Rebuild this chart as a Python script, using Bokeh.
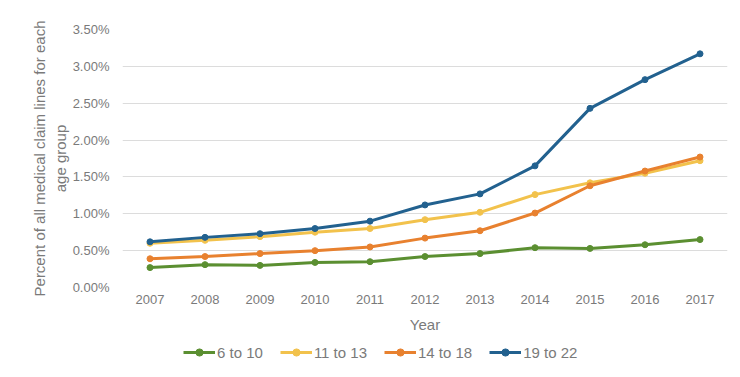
from bokeh.plotting import figure
from bokeh.layouts import column
from bokeh.models import ColumnDataSource, Legend, LegendItem, PrintfTickFormatter, FixedTicker, Range1d
from bokeh.embed import file_html
from bokeh.resources import INLINE

years = ["2007", "2008", "2009", "2010", "2011", "2012", "2013", "2014", "2015", "2016", "2017"]
s_6_10 = [0.27, 0.31, 0.30, 0.34, 0.35, 0.42, 0.46, 0.54, 0.53, 0.58, 0.65]
s_11_13 = [0.60, 0.64, 0.69, 0.75, 0.80, 0.92, 1.02, 1.26, 1.42, 1.55, 1.72]
s_14_18 = [0.39, 0.42, 0.46, 0.50, 0.55, 0.67, 0.77, 1.01, 1.38, 1.58, 1.77]
s_19_22 = [0.62, 0.68, 0.73, 0.80, 0.90, 1.12, 1.27, 1.65, 2.43, 2.82, 3.17]
series_names = ["6 to 10", "11 to 13", "14 to 18", "19 to 22"]
colors = ["#5b8f31", "#f2c24c", "#e8812f", "#22618f"]
y_ticks = [0, 0.5, 1.0, 1.5, 2.0, 2.5, 3.0, 3.5]

font = "Liberation Sans"
text_color = "#7a7a7a"

p = figure(width=732, height=343, x_range=years, y_range=Range1d(0, 3.5),
           output_backend="svg", toolbar_location=None,
           min_border_left=122, min_border_right=5, min_border_top=29, min_border_bottom=56)
p.outline_line_color = None
p.xgrid.grid_line_color = None
p.ygrid.grid_line_color = "#dcdcdc"
p.ygrid.grid_line_width = 1

for ax in (p.xaxis, p.yaxis):
    ax.axis_line_color = None
    ax.major_tick_line_color = None
    ax.minor_tick_line_color = None
    ax.major_tick_out = 0
    ax.major_tick_in = 0
    ax.major_label_text_font = font
    ax.major_label_text_font_size = "13px"
    ax.major_label_text_color = text_color
    ax.axis_label_text_font = font
    ax.axis_label_text_font_size = "15px"
    ax.axis_label_text_color = text_color
    ax.axis_label_text_font_style = "normal"

p.yaxis.ticker = FixedTicker(ticks=y_ticks)
p.yaxis.formatter = PrintfTickFormatter(format="%.2f%%")
p.yaxis.axis_label = "Percent of all medical claim lines for each\nage group"
p.yaxis.major_label_standoff = 13
p.yaxis.axis_label_standoff = 1
p.xaxis.axis_label = "Year"
p.xaxis.major_label_standoff = 7
p.xaxis.axis_label_standoff = 9

for vals, c in zip([s_6_10, s_11_13, s_14_18, s_19_22], colors):
    src = ColumnDataSource(dict(x=years, y=vals))
    p.line("x", "y", source=src, line_color=c, line_width=3)
    p.scatter("x", "y", source=src, size=6, fill_color=c, line_color=c)

# legend strip
lf = figure(width=732, height=22, x_range=Range1d(0, 1), y_range=Range1d(0, 1),
            output_backend="svg", toolbar_location=None,
            min_border_left=0, min_border_right=0, min_border_top=0, min_border_bottom=0)
lf.axis.visible = False
lf.grid.visible = False
lf.outline_line_color = None
items = []
for name, c in zip(series_names, colors):
    src = ColumnDataSource(dict(x=[5, 6], y=[5, 5]))
    l = lf.line("x", "y", source=src, line_color=c, line_width=3)
    m = lf.scatter("x", "y", source=src, size=6, fill_color=c, line_color=c)
    items.append(LegendItem(label=name, renderers=[l, m]))
legend = Legend(items=items, orientation="horizontal", location=(61, 4),
                label_text_font=font, label_text_font_size="15px", label_text_color=text_color,
                glyph_width=32, glyph_height=18, spacing=17, border_line_color=None, padding=2, margin=0,
                label_standoff=2, label_height=18, background_fill_alpha=0)
lf.add_layout(legend, "center")

layout = column(p, lf, spacing=0)
open("out.html", "w").write(file_html(layout, INLINE))
